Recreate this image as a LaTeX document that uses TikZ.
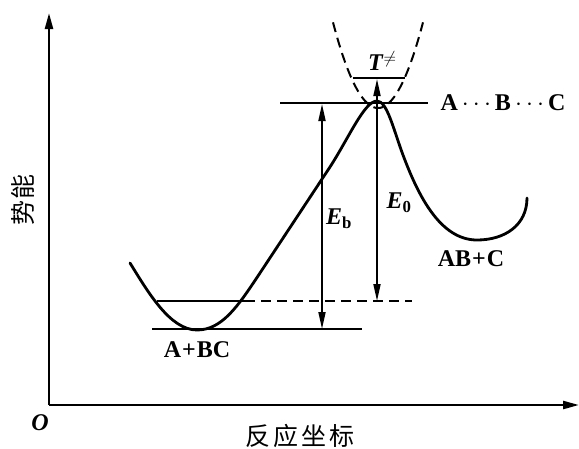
\documentclass[tikz,border=0pt]{standalone}
\usepackage{fontspec}
\setmainfont{Liberation Serif}
\newfontfamily\cjk{Noto Sans CJK SC}
\usetikzlibrary{arrows.meta}
\tikzset{
  curve/.style={line width=2.8pt, line cap=round, line join=round},
  axis/.style={line width=2.4pt, -{Triangle[length=16pt,width=8pt]}},
  level/.style={line width=2.2pt},
  dlevel/.style={line width=2pt, dash pattern=on 10pt off 6pt},
  energy/.style={line width=1.8pt, {Triangle[length=17pt,width=7pt]}-{Triangle[length=17pt,width=7pt]}},
  lab/.style={font=\fontsize{24}{28}\selectfont\bfseries, inner sep=0pt},
  cjklab/.style={font=\cjk\fontsize{25}{28}\selectfont, inner sep=0pt},
}
\begin{document}
\begin{tikzpicture}[x=1pt, y=-1pt]
\useasboundingbox (0,0) rectangle (579,448);
% axes
\coordinate (O) at (49,405);
\coordinate (ytop) at (49,13);
\coordinate (xend) at (579,405);
\draw[axis] (O) -- (ytop);
\draw[axis] (O) -- (xend);
\node[font=\fontsize{24}{28}\selectfont\itshape\bfseries, inner sep=0pt] (olab) at (40,423) {O};
\node[cjklab, rotate=90] (ylab) at (23,200) {势\hspace{1pt}能};
\node[cjklab] (xlab) at (300,436) {反\hspace{3pt}应\hspace{3pt}坐\hspace{3pt}标};
% potential curve
\draw[curve] (130,263) .. controls (148,292) and (170,330) .. (197,330)
  .. controls (222,330) and (238,306) .. (258,276)
  -- (328,170)
  .. controls (348,140) and (364,101) .. (377,101)
  .. controls (387,101) and (393,128) .. (403,155)
  .. controls (418,195) and (440,240) .. (477,240)
  .. controls (505,240) and (527,225) .. (527,198);
% dashed parabola
\draw[line width=2pt, dash pattern=on 10pt off 6pt, domain=-45:45, samples=60] plot ({378+\x},{108-0.0423*\x*\x});
% levels
\coordinate (g1) at (152,329);
\coordinate (g2) at (362,329);
\draw[level] (g1) -- (g2);
\coordinate (z1) at (157,301);
\coordinate (z2) at (245,301);
\coordinate (z3) at (412,301);
\draw[level] (z1) -- (z2);
\draw[dlevel] (z2) -- (z3);
\coordinate (t1) at (280,103);
\coordinate (t2) at (428,103);
\draw[level] (t1) -- (t2);
\coordinate (s1) at (353,78);
\coordinate (s2) at (405,78);
\draw[level, line width=2.8pt] (s1) -- (s2);
% energy arrows
\coordinate (eb1) at (322,104);
\coordinate (eb2) at (322,329);
\draw[energy] (eb1) -- (eb2);
\coordinate (e01) at (377,79);
\coordinate (e02) at (377,301);
\draw[energy] (e01) -- (e02);
% labels
\node[lab] (Eb) at (339,219) {\textit{E}\textsubscript{b}};
\node[lab] (E0) at (399,203) {\textit{E}\textsubscript{0}};
\node[lab] (T) at (382,61) {\textit{T}\raisebox{7pt}{\fontsize{17}{18}\selectfont$\neq$}};
\node[lab] (abc) at (503,103) {A\,$\cdots$\,B\,$\cdots$\,C};
\node[lab] (abpc) at (471,259) {AB\hspace{1pt}+\hspace{1pt}C};
\node[lab] (apbc) at (197,350) {A\hspace{1pt}+\hspace{1pt}BC};
\end{tikzpicture}
\end{document}
